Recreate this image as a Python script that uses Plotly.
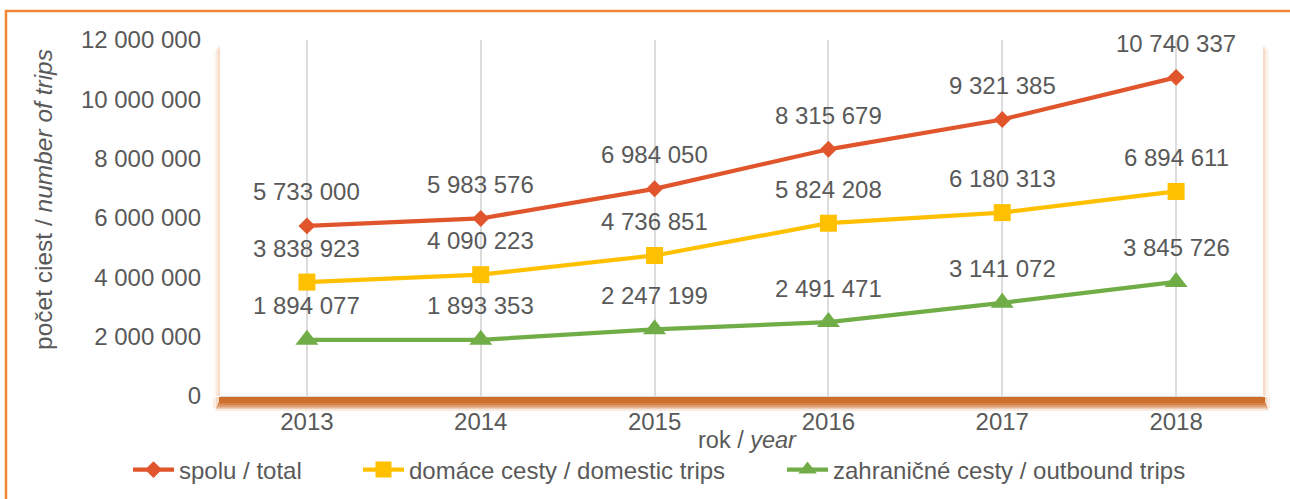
import plotly.graph_objects as go

years = ["2013", "2014", "2015", "2016", "2017", "2018"]
total = [5733000, 5983576, 6984050, 8315679, 9321385, 10740337]
domestic = [3838923, 4090223, 4736851, 5824208, 6180313, 6894611]
outbound = [1894077, 1893353, 2247199, 2491471, 3141072, 3845726]
names = ["spolu / total", "domáce cesty / domestic trips", "zahraničné cesty / outbound trips"]
y_ticks = [0, 2000000, 4000000, 6000000, 8000000, 10000000, 12000000]

W, H = 1290, 499
L, R, T, B = 220, 1263, 40, 396  # plot area pixels


def px(x):
    return (x - L) / (R - L)


def py(y):
    return (B - y) / (B - T)


def fmt(v):
    return f"{v:,}".replace(",", " ")


FONT = "Liberation Sans, Arial, sans-serif"
GREY = "#595959"
FS = 24

series = [
    (total, "#E1552D", "diamond", 13, "legend"),
    (domestic, "#FFC000", "square", 17, "legend2"),
    (outbound, "#70AD47", "triangle-up", 20, "legend3"),
]

fig = go.Figure()
for (vals, col, sym, size, lg), name in zip(series, names):
    fig.add_trace(go.Scatter(
        x=years, y=vals, name=name, mode="lines+markers",
        line=dict(color=col, width=4.25),
        marker=dict(symbol=sym, size=size, color=col),
        legend=lg,
    ))

annotations = []
for vals, *_ in series:
    for i, v in enumerate(vals):
        annotations.append(dict(x=i, y=v, xref="x", yref="y", text=fmt(v),
                                showarrow=False, yshift=34,
                                font=dict(family=FONT, size=FS, color=GREY)))

annotations.append(dict(x=px(747), y=py(440), xref="paper", yref="paper",
                        xanchor="center", yanchor="middle",
                        text="rok / <i>year</i>", showarrow=False,
                        font=dict(family=FONT, size=23.5, color=GREY)))
annotations.append(dict(x=px(43), y=py(200), xref="paper", yref="paper",
                        xanchor="center", yanchor="middle",
                        text="počet ciest / <i>number of trips</i>", showarrow=False,
                        textangle=-90,
                        font=dict(family=FONT, size=24.5, color=GREY)))

shapes = []
# outer frame (only left and top visible)
shapes.append(dict(type="rect", xref="paper", yref="paper",
                   x0=px(6), x1=px(1310), y0=py(11), y1=py(520),
                   line=dict(color="#F08536", width=2.5), layer="below"))
# side shadows of the plot area
for d, op in [(6, 0.07), (4, 0.1), (2, 0.16)]:
    shapes.append(dict(type="rect", xref="paper", yref="paper",
                       x0=px(L - d), x1=px(R + d), y0=py(B), y1=py(T + 4 + d),
                       line=dict(width=0), fillcolor="#E58A4A", opacity=op, layer="below"))
shapes.append(dict(type="rect", xref="paper", yref="paper",
                   x0=0, x1=1, y0=0, y1=1,
                   line=dict(width=0), fillcolor="white", layer="below"))
# bottom shadow band with a fading gradient
for top, bot, op, ext in [(1, 7, 1.0, 1), (7, 9, 0.8, 2), (9, 11, 0.55, 3),
                          (11, 13, 0.3, 4), (13, 15, 0.12, 5)]:
    shapes.append(dict(type="rect", xref="paper", yref="paper",
                       x0=px(L - ext), x1=px(R + ext + 1), y0=py(B + bot), y1=py(B + top),
                       line=dict(width=0), fillcolor="#C55A11", opacity=op, layer="below"))
for d, op in [(7, 0.15), (4, 0.25)]:
    shapes.append(dict(type="rect", xref="paper", yref="paper",
                       x0=px(L - d), x1=px(R + d), y0=py(B + 12), y1=py(B + 1),
                       line=dict(width=0), fillcolor="#E0925A", opacity=op, layer="below"))

leg_common = dict(orientation="h", yanchor="middle", xanchor="left",
                  font=dict(family=FONT, size=FS, color=GREY),
                  bgcolor="rgba(0,0,0,0)", itemwidth=41)
fig.update_layout(
    width=W, height=H,
    margin=dict(l=L, r=W - R, t=T, b=H - B, autoexpand=False),
    paper_bgcolor="white", plot_bgcolor="rgba(0,0,0,0)",
    separators=". ",
    font=dict(family=FONT, size=FS, color=GREY),
    showlegend=True,
    legend=dict(x=px(128), y=py(470), **leg_common),
    legend2=dict(x=px(358), y=py(470), **leg_common),
    legend3=dict(x=px(782), y=py(470), **leg_common),
    annotations=annotations,
    shapes=shapes,
)
fig.update_xaxes(
    type="category", range=[-0.5, 5.5],
    showgrid=True, gridcolor="#DCDCDC", gridwidth=1.5,
    showline=True, linecolor="#D9D9D9", linewidth=1,
    ticks="", ticklabelstandoff=4,
    tickfont=dict(family=FONT, size=FS, color=GREY),
    fixedrange=True,
)
fig.update_yaxes(
    range=[0, 12000000], tickvals=y_ticks,
    ticktext=[fmt(v) for v in y_ticks],
    showgrid=False, zeroline=False, showline=False,
    ticks="", ticklabelstandoff=18,
    tickfont=dict(family=FONT, size=FS, color=GREY),
    fixedrange=True,
)

fig.write_html("out.html", config={"displayModeBar": False},
               post_script="document.body.style.margin='0';")
